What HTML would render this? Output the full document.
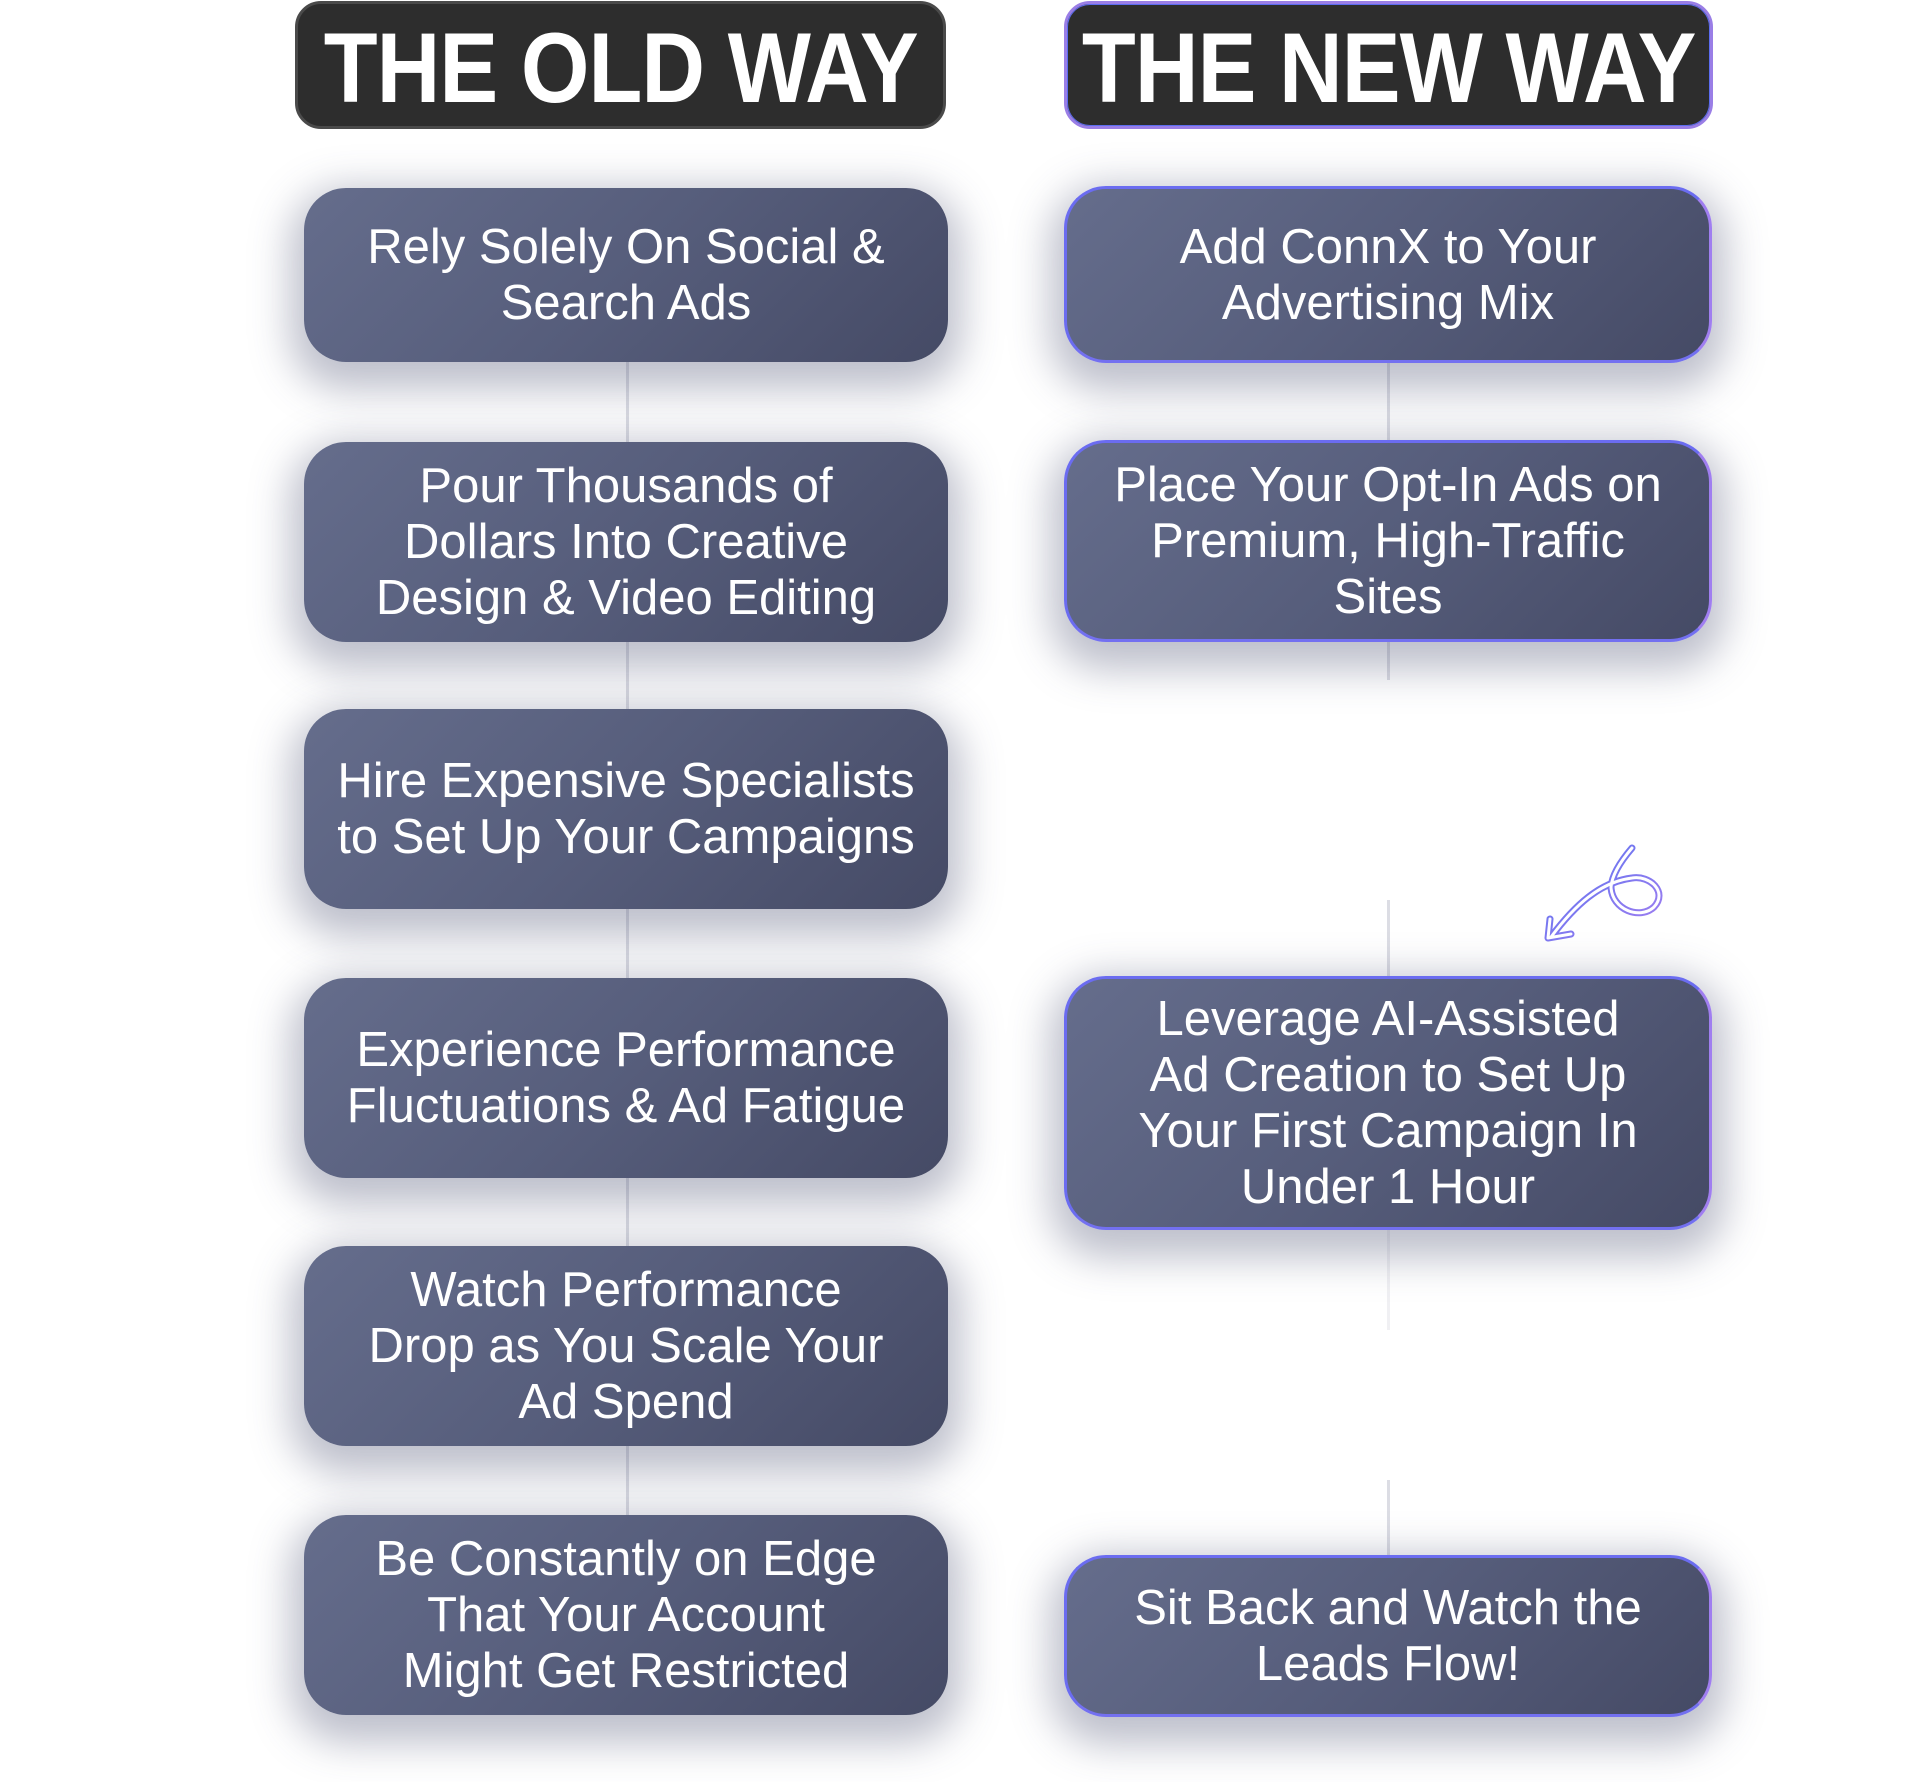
<!DOCTYPE html>
<html><head><meta charset="utf-8"><style>
html,body{margin:0;padding:0;background:#fff;}
body{width:1920px;height:1782px;position:relative;overflow:hidden;font-family:"Liberation Sans",sans-serif;}
.hdr{position:absolute;top:1px;height:128px;background:#2d2d2d;border-radius:26px;box-sizing:border-box;display:flex;align-items:center;justify-content:center;}
.hdr span{display:inline-block;color:#fff;font-weight:bold;font-size:99px;transform:scaleX(0.89);white-space:nowrap;line-height:1;letter-spacing:-1px;margin-top:4px;}
.old{left:295px;width:651px;border:3px solid #4a4a4a;}
.new{left:1064px;width:649px;border:3px solid #9a7ee6;box-shadow:0 0 0 1px #5b6cf0 inset;}
.box{position:absolute;border-radius:42px;background:linear-gradient(135deg,#656d8c 0%,#565d7b 50%,#454a65 100%);box-shadow:0 14px 40px 14px rgba(70,75,110,0.35);display:flex;align-items:center;justify-content:center;text-align:center;color:#fff;font-size:49px;line-height:56px;box-sizing:border-box;padding:0 4px;}
.box span{display:inline-block;white-space:nowrap;}
.L{left:304px;width:644px;}
.R{left:1064px;width:648px;border:3px solid #6b6cf0;border-right-color:#a07ef0;border-bottom-color:#7370f0;}
.line{position:absolute;width:3px;background:#dcdde4;}
</style></head><body>
<div class="line" style="left:626px;top:360px;height:1160px"></div>
<div class="line" style="left:1387px;top:360px;height:320px;"></div>
<div class="line" style="left:1387px;top:900px;height:80px;"></div>
<div class="line" style="left:1387px;top:1230px;height:100px;background:#f0f0f3"></div>
<div class="line" style="left:1387px;top:1480px;height:80px;"></div>

<div class="hdr old"><span>THE OLD WAY</span></div>
<div class="hdr new"><span>THE NEW WAY</span></div>

<div class="box L" style="top:188px;height:174px"><span>Rely Solely On Social &amp;<br>Search Ads</span></div>
<div class="box L" style="top:442px;height:200px"><span>Pour Thousands of<br>Dollars Into Creative<br>Design &amp; Video Editing</span></div>
<div class="box L" style="top:709px;height:200px"><span>Hire Expensive Specialists<br>to Set Up Your Campaigns</span></div>
<div class="box L" style="top:978px;height:200px"><span>Experience Performance<br>Fluctuations &amp; Ad Fatigue</span></div>
<div class="box L" style="top:1246px;height:200px"><span>Watch Performance<br>Drop as You Scale Your<br>Ad Spend</span></div>
<div class="box L" style="top:1515px;height:200px"><span>Be Constantly on Edge<br>That Your Account<br>Might Get Restricted</span></div>

<div class="box R" style="top:186px;height:177px"><span>Add ConnX to Your<br>Advertising Mix</span></div>
<div class="box R" style="top:440px;height:202px"><span>Place Your Opt-In Ads on<br>Premium, High-Traffic<br>Sites</span></div>
<div class="box R" style="top:976px;height:254px"><span>Leverage AI-Assisted<br>Ad Creation to Set Up<br>Your First Campaign In<br>Under 1 Hour</span></div>
<div class="box R" style="top:1555px;height:162px"><span>Sit Back and Watch the<br>Leads Flow!</span></div>

<svg style="position:absolute;left:0;top:0" width="1920" height="1782">
<defs><linearGradient id="g" x1="0" y1="0" x2="1" y2="1"><stop offset="0" stop-color="#5a73f0"/><stop offset="1" stop-color="#a27ef0"/></linearGradient></defs>
<g fill="none" stroke-linecap="round" stroke-linejoin="round">
<path d="M1632 848 C1620 862 1612 875 1611 887 C1612 910 1640 920 1654 907 C1668 892 1650 875 1632 878 C1600 882 1575 905 1551 937 M1550 919 L1548 938 L1571 934" stroke="url(#g)" stroke-width="7"/>
<path d="M1632 848 C1620 862 1612 875 1611 887 C1612 910 1640 920 1654 907 C1668 892 1650 875 1632 878 C1600 882 1575 905 1551 937 M1550 919 L1548 938 L1571 934" stroke="#fff" stroke-width="3"/>
</g>
</svg>
</body></html>
